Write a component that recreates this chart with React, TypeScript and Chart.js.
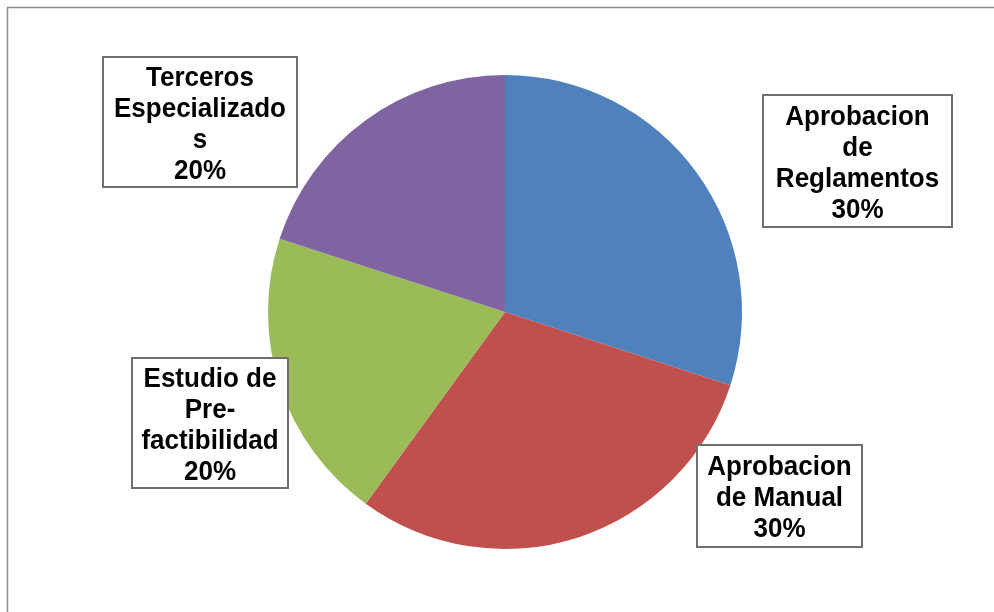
import React, { useEffect, useRef } from "react";
import { Chart, registerables } from "chart.js";

Chart.register(...registerables);

const categories = [
  "Aprobacion de Reglamentos",
  "Aprobacion de Manual",
  "Estudio de Pre-factibilidad",
  "Terceros Especializados",
];
const values = [30, 30, 20, 20];
const colors = ["#4F81BD", "#C0504D", "#9BBB59", "#8064A2"];
const labelLines = [
  ["Aprobacion", "de", "Reglamentos"],
  ["Aprobacion", "de Manual"],
  ["Estudio de", "Pre-", "factibilidad"],
  ["Terceros", "Especializado", "s"],
];

// label box geometry (layout, not data)
const boxes = [
  { x: 763, y: 95, w: 189, h: 132 },
  { x: 697, y: 445, w: 165, h: 102 },
  { x: 132, y: 358, w: 156, h: 130 },
  { x: 103, y: 57, w: 194, h: 130 },
];

const labelPlugin = {
  id: "boxLabels",
  afterDraw(chart: any) {
    const ctx = chart.ctx as CanvasRenderingContext2D;
    ctx.save();
    // outer frame
    ctx.strokeStyle = "#8c8c8c";
    ctx.lineWidth = 1.5;
    ctx.strokeRect(7.5, 7.5, 1100, 700);
    const data = chart.data.datasets[0].data as number[];
    const total = data.reduce((a: number, b: number) => a + b, 0);
    data.forEach((v: number, i: number) => {
      const b = boxes[i];
      ctx.fillStyle = "#ffffff";
      ctx.fillRect(b.x, b.y, b.w, b.h);
      ctx.strokeStyle = "#6f6f6f";
      ctx.lineWidth = 2;
      ctx.strokeRect(b.x, b.y, b.w, b.h);
      const lines = [...labelLines[i], Math.round((v / total) * 100) + "%"];
      const lh = 31;
      const cx = b.x + b.w / 2;
      const cy = b.y + b.h / 2;
      ctx.fillStyle = "#000000";
      ctx.font = "bold 26px Arial, 'Liberation Sans', sans-serif";
      ctx.textAlign = "center";
      ctx.textBaseline = "middle";
      lines.forEach((t, k) => {
        const y = cy + (k - (lines.length - 1) / 2) * lh + 2.5;
        ctx.save();
        ctx.translate(cx, y);
        ctx.scale(1, 1.08);
        ctx.fillText(t, 0, 0);
        ctx.restore();
      });
    });
    ctx.restore();
  },
};

export default function App() {
  const ref = useRef<HTMLCanvasElement>(null);
  useEffect(() => {
    if (!ref.current) return;
    const chart = new Chart(ref.current, {
      type: "pie",
      data: {
        labels: categories,
        datasets: [
          {
            data: values,
            backgroundColor: colors,
            borderWidth: 0,
          },
        ],
      },
      options: {
        responsive: false,
        animation: false,
        layout: { padding: { left: 268, right: 252, top: 75, bottom: 63 } },
        plugins: {
          legend: { display: false },
          tooltip: { enabled: false },
        },
      },
      plugins: [labelPlugin],
    });
    return () => chart.destroy();
  }, []);
  return (
    <div style={{ position: "absolute", left: 0, top: 0, width: 994, height: 612, background: "#fff" }}>
      <canvas ref={ref} width={994} height={612} style={{ width: 994, height: 612 }} />
    </div>
  );
}
